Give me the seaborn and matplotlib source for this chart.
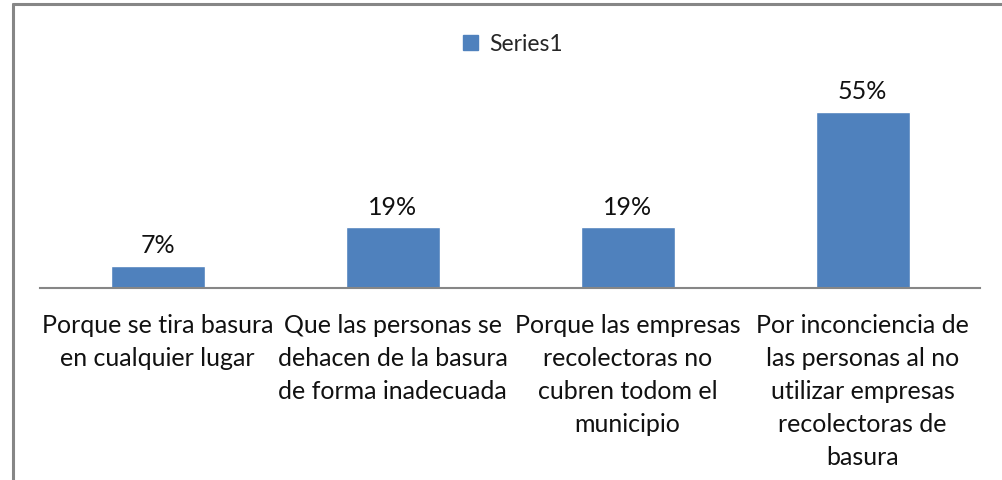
import matplotlib
matplotlib.use("Agg")
import matplotlib.pyplot as plt
import matplotlib.patches as mpatches
import seaborn as sns
import pandas as pd

categories = [
    "Porque se tira basura\nen cualquier lugar",
    "Que las personas se\ndehacen de la basura\nde forma inadecuada",
    "Porque las empresas\nrecolectoras no\ncubren todom el\nmunicipio",
    "Por inconciencia de\nlas personas al no\nutilizar empresas\nrecolectoras de\nbasura",
]
values = [7, 19, 19, 55]
series_name = "Series1"

sns.set_style("white")
plt.rcParams["font.family"] = ["Lato", "DejaVu Sans"]

data = pd.DataFrame({"category": categories, "value": values})

fig = plt.figure(figsize=(10.02, 4.81), dpi=100)
ax = fig.add_axes([40 / 1002, (481 - 289) / 481, 940 / 1002, 192 / 481])

color = "#4F81BD"
sns.barplot(data=data, x="category", y="value", color=color, width=0.4,
            saturation=1, ax=ax)
ax.set_ylim(0, 60)

for i, v in enumerate(values):
    ax.text(i, v + 3.0, f"{v}%", ha="center", va="bottom", fontsize=18,
            color="#111111")

ax.set_xlabel("")
ax.set_ylabel("")
ax.set_yticks([])
ax.tick_params(axis="x", length=0, pad=18, labelsize=18, colors="#111111")
for lbl in ax.get_xticklabels():
    lbl.set_linespacing(1.52)
    lbl.set_verticalalignment("top")

for side in ["top", "right", "left"]:
    ax.spines[side].set_visible(False)
ax.spines["bottom"].set_color("#868686")
ax.spines["bottom"].set_linewidth(1.5)

handle = mpatches.Patch(color=color, label=series_name)
fig.legend(handles=[handle], loc="center", bbox_to_anchor=(513 / 1002, 1 - 45 / 481),
           frameon=False, fontsize=16.5, handlelength=0.65, handleheight=0.65,
           handletextpad=0.5)

# outer chart border (cropped: only left and top edges visible)
border_color = "#868686"
fig.add_artist(plt.Line2D([12.5 / 1002, 12.5 / 1002], [0, 1 - 5 / 481],
                          color=border_color, lw=2.2))
fig.add_artist(plt.Line2D([12.5 / 1002, 1], [1 - 5 / 481, 1 - 5 / 481],
                          color=border_color, lw=2.2))

fig.savefig("out.png", dpi=100)
